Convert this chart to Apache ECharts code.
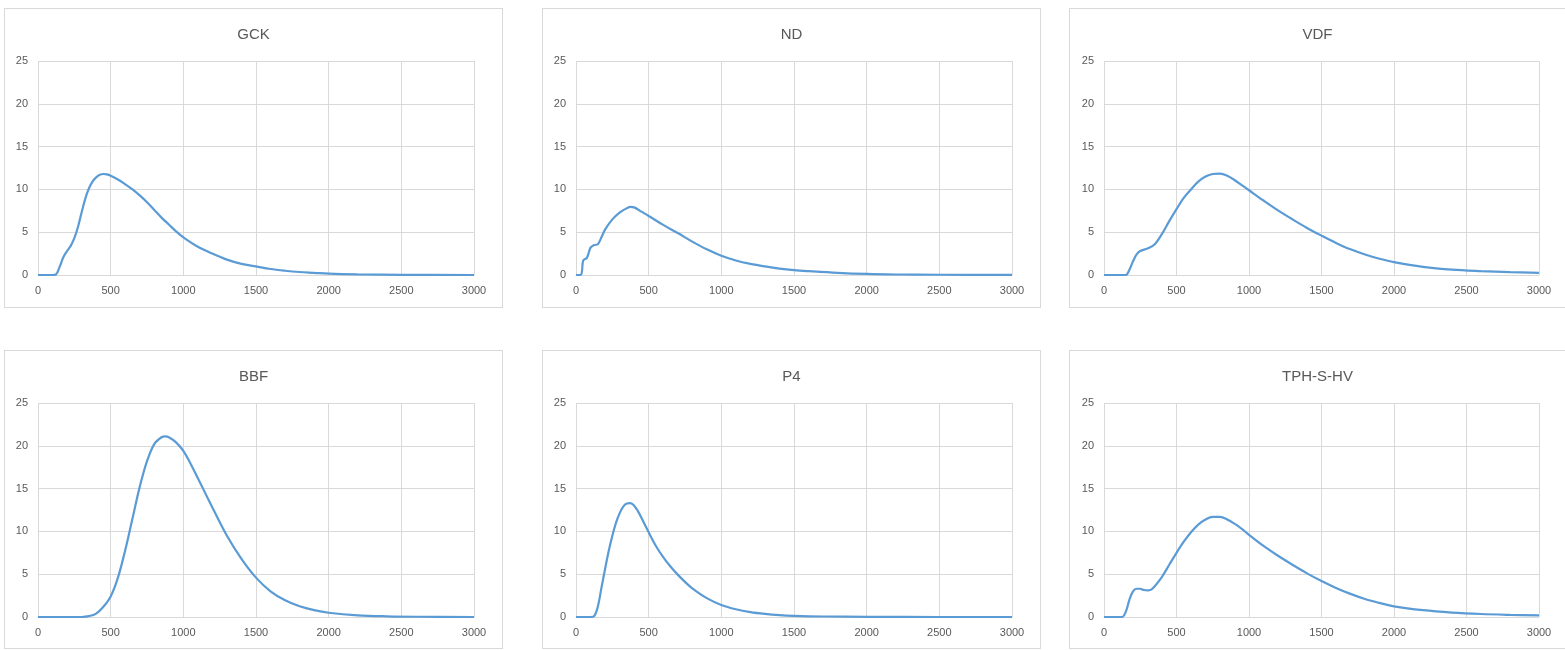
<!DOCTYPE html>
<html>
<head>
<meta charset="utf-8">
<script src="https://cdn.jsdelivr.net/npm/echarts@6/dist/echarts.min.js"></script>
<style>
html,body{margin:0;padding:0;background:#fff;width:1565px;height:650px;overflow:hidden;}
.box{position:absolute;border:1px solid #d9d9d9;box-sizing:border-box;background:#fff;}
</style>
</head>
<body>
<div id="c1" class="box" style="left:4px;top:8px;width:499px;height:300px;"></div>
<div id="c2" class="box" style="left:542px;top:8px;width:499px;height:300px;"></div>
<div id="c3" class="box" style="left:1069px;top:8px;width:497px;height:300px;"></div>
<div id="c4" class="box" style="left:4px;top:350px;width:499px;height:299px;"></div>
<div id="c5" class="box" style="left:542px;top:350px;width:499px;height:299px;"></div>
<div id="c6" class="box" style="left:1069px;top:350px;width:497px;height:299px;"></div>
<script>
// ---- data ----
const titles = ["GCK", "ND", "VDF", "BBF", "P4", "TPH-S-HV"];
const xTicks = [0, 500, 1000, 1500, 2000, 2500, 3000];
const yTicks = [0, 5, 10, 15, 20, 25];

const gckX = [0,100,125,150,175,200,225,250,275,300,325,350,375,400,425,450,475,500,550,600,650,700,750,800,850,900,950,1000,1100,1200,1300,1400,1500,1600,1700,1800,1900,2000,2200,2500,3000];
const gckY = [0,0,0.1,1.0,2.1,2.8,3.4,4.3,5.6,7.3,8.9,10.1,10.9,11.4,11.7,11.8,11.75,11.6,11.15,10.6,10.0,9.3,8.5,7.6,6.7,5.9,5.1,4.4,3.3,2.5,1.8,1.3,1.0,0.7,0.5,0.35,0.25,0.15,0.07,0.02,0];

const ndX = [0,30,40,50,75,100,125,150,175,200,250,300,350,375,400,450,500,600,700,800,900,1000,1100,1200,1300,1400,1500,1600,1800,2000,2200,2500,3000];
const ndY = [0,0,0.3,1.7,2.0,3.2,3.5,3.6,4.4,5.3,6.5,7.3,7.8,7.95,7.9,7.4,6.9,5.85,4.9,3.9,3.0,2.25,1.7,1.3,1.0,0.75,0.57,0.45,0.25,0.12,0.06,0.03,0.01];

const vdfX = [0,150,175,200,225,250,300,350,400,450,500,550,600,650,700,750,800,850,900,950,1000,1100,1200,1300,1400,1500,1600,1700,1800,1900,2000,2200,2400,2600,2800,3000];
const vdfY = [0,0,0.6,1.6,2.4,2.8,3.1,3.6,4.8,6.3,7.7,9.0,10.0,10.9,11.5,11.8,11.85,11.6,11.1,10.5,9.9,8.7,7.55,6.5,5.5,4.6,3.75,3.0,2.4,1.9,1.5,0.95,0.62,0.45,0.33,0.25];

const bbfX = [0,300,350,400,450,500,550,600,650,700,750,800,850,875,900,950,1000,1050,1100,1150,1200,1300,1400,1500,1600,1700,1800,1900,2000,2200,2400,2600,3000];
const bbfY = [0,0,0.1,0.4,1.2,2.4,4.6,7.8,11.5,15.2,18.2,20.2,21.0,21.1,21.0,20.4,19.4,17.9,16.2,14.5,12.8,9.5,6.8,4.6,3.0,1.95,1.25,0.8,0.5,0.2,0.08,0.03,0];

const p4X = [0,100,125,150,175,200,225,250,275,300,325,350,375,400,425,450,500,550,600,650,700,750,800,900,1000,1100,1200,1300,1400,1500,1700,2000,2500,3000];
const p4Y = [0,0,0.1,1.2,3.4,5.6,7.7,9.5,11.0,12.1,12.9,13.25,13.3,13.0,12.4,11.6,9.9,8.3,7.0,5.9,4.95,4.1,3.35,2.2,1.4,0.9,0.57,0.36,0.22,0.14,0.06,0.02,0,0];

const tphX = [0,125,150,175,200,225,250,275,300,325,350,400,450,500,550,600,650,700,750,800,850,900,950,1000,1100,1200,1300,1400,1500,1600,1700,1800,1900,2000,2200,2400,2600,2800,3000];
const tphY = [0,0,0.6,2.0,3.0,3.3,3.3,3.15,3.1,3.2,3.6,4.7,6.1,7.5,8.8,9.9,10.8,11.4,11.7,11.7,11.4,10.9,10.3,9.6,8.3,7.15,6.1,5.1,4.2,3.4,2.7,2.1,1.65,1.25,0.8,0.52,0.35,0.25,0.18];

const seriesX = [gckX, ndX, vdfX, bbfX, p4X, tphX];
const seriesY = [gckY, ndY, vdfY, bbfY, p4Y, tphY];

// ---- layout ----
const grids = [
  {left:33, right:28, top:52, bottom:32},
  {left:33, right:28, top:52, bottom:32},
  {left:34, right:26, top:52, bottom:32},
  {left:33, right:28, top:52, bottom:31},
  {left:33, right:28, top:52, bottom:31},
  {left:34, right:26, top:52, bottom:31}
];

const txt = '#595959';
const gridCol = '#d9d9d9';
const font = 'Liberation Sans, Arial, sans-serif';

for (let i = 0; i < 6; i++) {
  const chart = echarts.init(document.getElementById('c' + (i + 1)), null, {renderer: 'canvas'});
  const data = seriesX[i].map((x, k) => [x, seriesY[i][k]]);
  chart.setOption({
    animation: false,
    textStyle: {fontFamily: font},
    title: {
      text: titles[i], left: 'center', top: 13,
      textStyle: {color: txt, fontSize: 15, fontWeight: 'normal', fontFamily: font}
    },
    grid: grids[i],
    xAxis: {
      type: 'value', min: xTicks[0], max: xTicks[xTicks.length - 1], interval: 500,
      axisLine: {show: true, lineStyle: {color: gridCol}},
      axisTick: {show: false},
      axisLabel: {color: txt, fontSize: 11, margin: 10, fontFamily: font, formatter: v => String(v)},
      splitLine: {show: true, lineStyle: {color: gridCol, width: 1}}
    },
    yAxis: {
      type: 'value', min: yTicks[0], max: yTicks[yTicks.length - 1], interval: 5,
      axisLine: {show: false},
      axisTick: {show: false},
      axisLabel: {color: txt, fontSize: 11, margin: 10, fontFamily: font, formatter: v => String(v)},
      splitLine: {show: true, lineStyle: {color: gridCol, width: 1}}
    },
    series: [{
      type: 'line', data: data, smooth: 0.35, showSymbol: false, symbol: 'none',
      lineStyle: {color: '#5b9bd5', width: 2.2}
    }]
  });
}
</script>
</body>
</html>
